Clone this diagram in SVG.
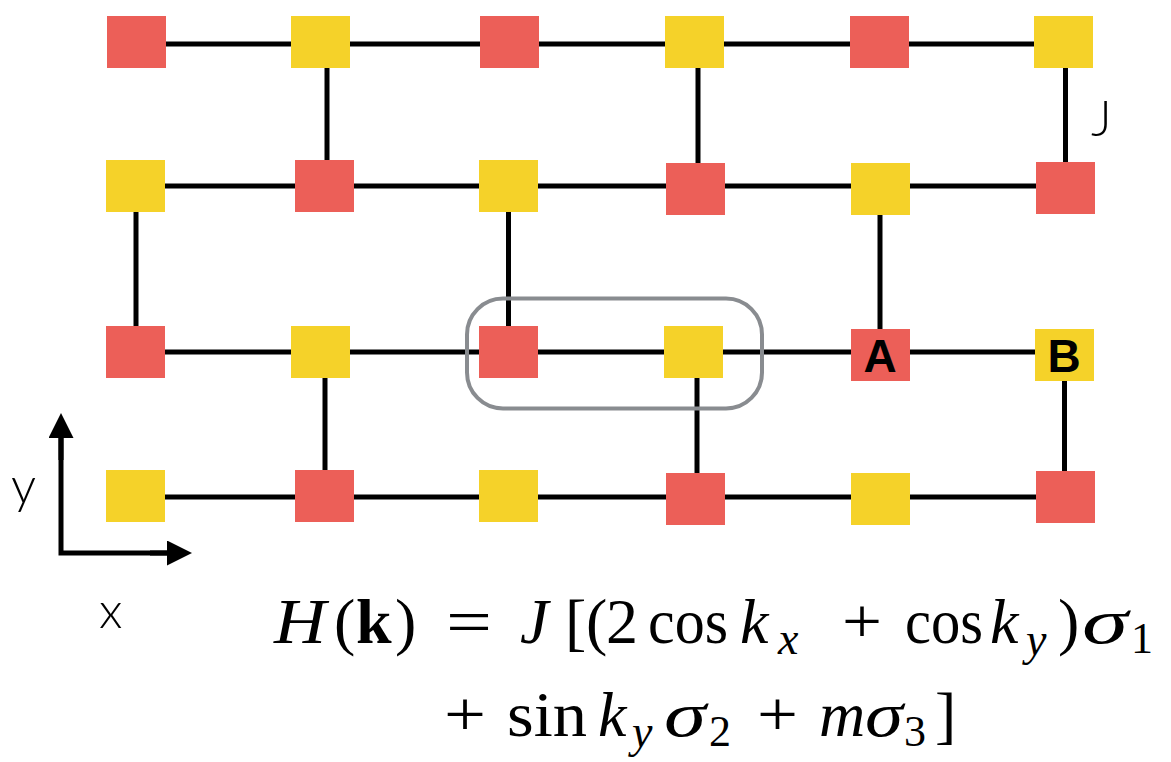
<svg xmlns="http://www.w3.org/2000/svg" width="1171" height="762" viewBox="0 0 1171 762">
<style>
.r{fill:#EC5F58}
.y{fill:#F5D229}
.c{stroke:#000;stroke-width:5;fill:none}
.lbl{font-family:"Liberation Sans",Arial,sans-serif;font-weight:bold;font-size:46px;fill:#000;text-anchor:middle}
.ax{font-family:Lato,"Open Sans","Liberation Sans",sans-serif;font-weight:300;font-size:50px;fill:#000}
.m{font-family:"Liberation Serif","Times New Roman",serif;font-size:64px;fill:#000}
.mi{font-family:"Liberation Serif","Times New Roman",serif;font-size:64px;font-style:italic;fill:#000}
.ms{font-family:"Liberation Serif","Times New Roman",serif;font-size:44px;fill:#000}
.msi{font-family:"Liberation Serif","Times New Roman",serif;font-size:46px;font-style:italic;fill:#000}
</style>
<defs>
<marker id="ah" viewBox="0 0 25 25" markerWidth="25" markerHeight="25" refX="1" refY="12.5" orient="auto" markerUnits="userSpaceOnUse">
<path d="M0,0 L25,12.5 L0,25 z" fill="#000"/>
</marker>
</defs>
<g id="connectors">
<line class="c" x1="136" y1="44" x2="1064" y2="44"/>
<line class="c" x1="136" y1="186" x2="1065" y2="186"/>
<line class="c" x1="136" y1="352" x2="1064" y2="352"/>
<line class="c" x1="136" y1="497" x2="1065" y2="497"/>
<line class="c" x1="327" y1="66" x2="327" y2="162"/>
<line class="c" x1="698" y1="66" x2="698" y2="165"/>
<line class="c" x1="1065.5" y1="66" x2="1065.5" y2="164"/>
<line class="c" x1="136" y1="210" x2="136" y2="328"/>
<line class="c" x1="508.5" y1="210" x2="508.5" y2="328"/>
<line class="c" x1="880" y1="213" x2="880" y2="331"/>
<line class="c" x1="325" y1="376" x2="325" y2="472"/>
<line class="c" x1="697" y1="376" x2="697" y2="475"/>
<line class="c" x1="1064.5" y1="379" x2="1064.5" y2="473"/>
</g>
<g id="nodes">
<g id="n1_1"><rect class="r" x="107" y="16" width="59" height="52"/></g>
<g id="n1_2"><rect class="y" x="291" y="16" width="59" height="52"/></g>
<g id="n1_3"><rect class="r" x="480" y="16" width="59" height="52"/></g>
<g id="n1_4"><rect class="y" x="665" y="16" width="59" height="52"/></g>
<g id="n1_5"><rect class="r" x="850" y="16" width="59" height="52"/></g>
<g id="n1_6"><rect class="y" x="1034" y="16" width="59" height="52"/></g>
<g id="n2_1"><rect class="y" x="106" y="160" width="59" height="52"/></g>
<g id="n2_2"><rect class="r" x="295" y="160" width="59" height="52"/></g>
<g id="n2_3"><rect class="y" x="479" y="160" width="59" height="52"/></g>
<g id="n2_4"><rect class="r" x="666" y="163" width="59" height="52"/></g>
<g id="n2_5"><rect class="y" x="851" y="163" width="59" height="52"/></g>
<g id="n2_6"><rect class="r" x="1036" y="162" width="59" height="52"/></g>
<g id="n3_1"><rect class="r" x="106" y="326" width="59" height="52"/></g>
<g id="n3_2"><rect class="y" x="291" y="326" width="59" height="52"/></g>
<g id="n3_3"><rect class="r" x="479" y="326" width="59" height="52"/></g>
<g id="n3_4"><rect class="y" x="664" y="326" width="59" height="52"/></g>
<g id="nA"><rect class="r" x="851" y="329" width="59" height="52"/><text class="lbl" x="880" y="372">A</text></g>
<g id="nB"><rect class="y" x="1035" y="329" width="59" height="52"/><text class="lbl" x="1064" y="372">B</text></g>
<g id="n4_1"><rect class="y" x="106" y="470" width="59" height="52"/></g>
<g id="n4_2"><rect class="r" x="295" y="470" width="59" height="52"/></g>
<g id="n4_3"><rect class="y" x="479" y="470" width="59" height="52"/></g>
<g id="n4_4"><rect class="r" x="666" y="473" width="59" height="52"/></g>
<g id="n4_5"><rect class="y" x="851" y="473" width="59" height="52"/></g>
<g id="n4_6"><rect class="r" x="1036" y="471" width="59" height="52"/></g>
</g>
<g id="unitcell">
<rect x="467" y="298.5" width="295" height="110" rx="36" ry="36" fill="none" stroke="#898C90" stroke-width="4"/>
</g>
<g id="labelJ"><text class="ax" x="1091" y="136">J</text></g>
<g id="axes">
<polyline class="c" points="61,437 61,553 168,553" stroke-linejoin="miter"/>
<line class="c" x1="61" y1="460" x2="61" y2="437" marker-end="url(#ah)"/>
<line class="c" x1="150" y1="553" x2="168" y2="553" marker-end="url(#ah)"/>
<text class="ax" x="11" y="503">y</text>
<text class="ax" x="99" y="628">x</text>
</g>
<g id="formula">
<text class="mi" x="274" y="643" textLength="52" lengthAdjust="spacingAndGlyphs">H</text>
<text class="m" x="334" y="643">(</text>
<text class="m" x="356" y="643" font-weight="bold">k</text>
<text class="m" x="395" y="643">)</text>
<text class="m" x="446" y="643" textLength="46" lengthAdjust="spacingAndGlyphs">=</text>
<text class="mi" x="520" y="643">J</text>
<text class="m" x="565" y="643">[</text>
<text class="m" x="586" y="643">(</text>
<text class="m" x="606" y="643">2</text>
<text class="m" x="648" y="643" textLength="80" lengthAdjust="spacingAndGlyphs">cos</text>
<text class="mi" x="740" y="643">k</text>
<text class="msi" x="778" y="654">x</text>
<text class="m" x="842" y="643" textLength="40" lengthAdjust="spacingAndGlyphs">+</text>
<text class="m" x="905" y="643" textLength="78" lengthAdjust="spacingAndGlyphs">cos</text>
<text class="mi" x="990" y="643">k</text>
<text class="msi" x="1026" y="655">y</text>
<text class="m" x="1058" y="643">)</text>
<text class="mi" x="1082" y="643" textLength="46" lengthAdjust="spacingAndGlyphs">σ</text>
<text class="ms" x="1131" y="653">1</text>
<text class="m" x="444" y="736" textLength="42" lengthAdjust="spacingAndGlyphs">+</text>
<text class="m" x="507" y="736" textLength="80" lengthAdjust="spacingAndGlyphs">sin</text>
<text class="mi" x="598" y="736">k</text>
<text class="msi" x="632" y="747">y</text>
<text class="mi" x="664" y="736" textLength="42" lengthAdjust="spacingAndGlyphs">σ</text>
<text class="ms" x="709" y="746">2</text>
<text class="m" x="757" y="736" textLength="41" lengthAdjust="spacingAndGlyphs">+</text>
<text class="mi" x="819" y="736">m</text>
<text class="mi" x="865" y="736" textLength="38" lengthAdjust="spacingAndGlyphs">σ</text>
<text class="ms" x="904" y="746">3</text>
<text class="m" x="935" y="736">]</text>
</g>
</svg>
